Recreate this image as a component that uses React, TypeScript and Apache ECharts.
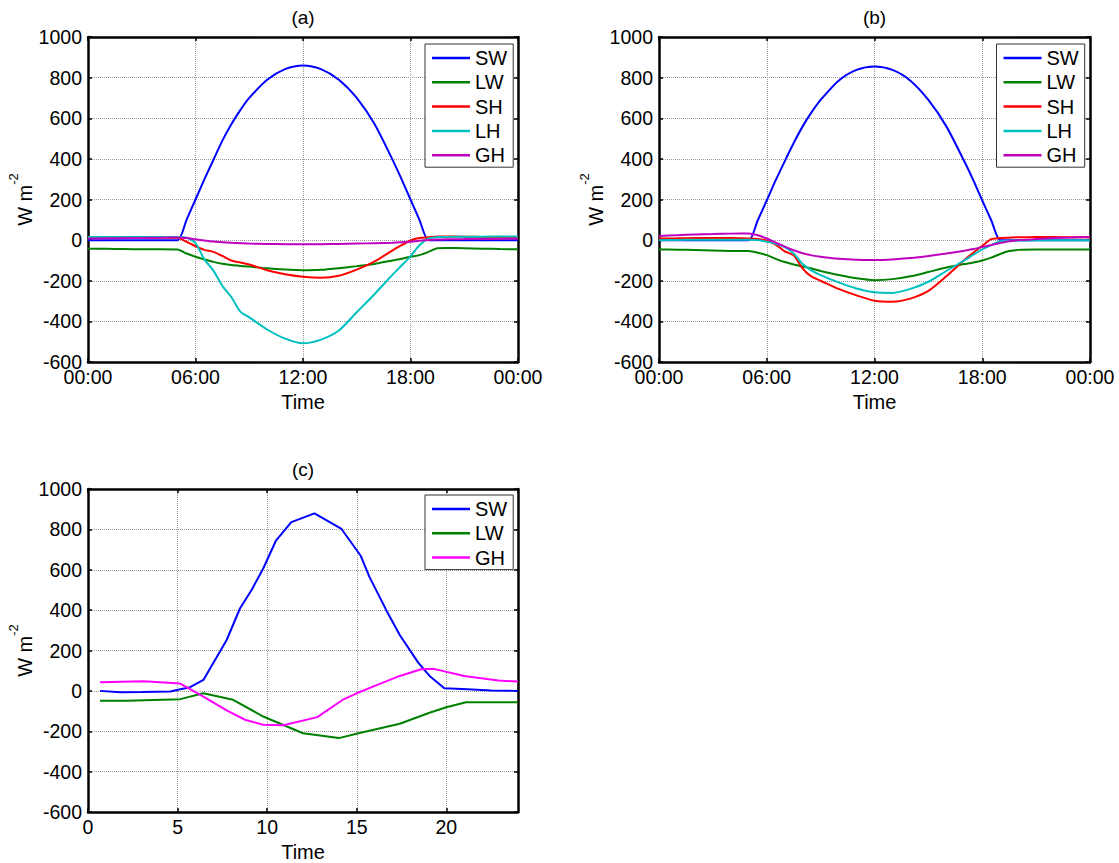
import React, { useEffect, useRef } from "react";
import * as echarts from "echarts";

// ---------- data ----------
const hoursAB = [0, 1, 2, 3, 4, 5, 5.5, 6, 6.5, 7, 7.5, 8, 8.5, 9, 10, 11, 12, 13, 14, 15, 16, 17, 17.5, 18, 18.5, 19, 19.5, 20, 21, 22, 23, 24];
const timeTickLabels = ["00:00", "06:00", "12:00", "18:00", "00:00"];
const yTicks = [-600, -400, -200, 0, 200, 400, 600, 800, 1000];
const panelTitles = ["(a)", "(b)", "(c)"];
const seriesNamesAB = ["SW", "LW", "SH", "LH", "GH"];
const seriesNamesC = ["SW", "LW", "GH"];

const aSW = [0, 0, 0, 0, 0, 0, 100, 200, 300, 395, 490, 570, 640, 700, 790, 842, 860, 842, 790, 700, 570, 395, 300, 200, 100, 0, 0, 0, 0, 0, 0, 0];
const aLW = [-42, -43, -44, -45, -45, -46, -66, -82, -95, -107, -116, -123, -127, -130, -139, -145, -148, -146, -138, -128, -117, -100, -92, -82, -74, -58, -40, -39, -40, -42, -44, -45];
const aSH = [10, 11, 12, 12, 12, 12, -8, -30, -48, -58, -78, -100, -110, -120, -148, -168, -180, -185, -175, -145, -105, -50, -25, -2, 10, 14, 18, 18, 17, 15, 13, 12];
const aLH = [16, 16, 16, 16, 16, 16, 12, -15, -95, -150, -225, -280, -352, -380, -440, -485, -508, -490, -445, -355, -265, -170, -125, -80, -25, 8, 15, 16, 17, 17, 18, 18];
const aGH = [8, 9, 10, 11, 12, 13, 10, 4, -2, -7, -10, -13, -15, -17, -19, -20, -20, -20, -19, -17, -15, -13, -11, -8, -3, 1, 3, 4, 5, 6, 6, 7];

const bSW = [0, 0, 0, 0, 0, 0, 98, 195, 295, 388, 478, 560, 630, 690, 785, 838, 855, 838, 785, 690, 560, 388, 295, 195, 98, 0, 0, 0, 0, 0, 0, 0];
const bLW = [-46, -47, -49, -51, -53, -54, -62, -74, -92, -108, -120, -130, -140, -152, -172, -188, -197, -192, -178, -157, -135, -118, -110, -100, -86, -68, -54, -48, -46, -46, -46, -46];
const bSH = [8, 9, 10, 10, 10, 8, 6, -3, -22, -55, -75, -140, -180, -200, -240, -272, -298, -303, -288, -250, -178, -98, -62, -28, 5, 10, 12, 14, 15, 15, 14, 13];
const bLH = [0, 1, 2, 2, 2, 2, 0, -8, -18, -35, -66, -118, -150, -172, -208, -238, -257, -260, -240, -205, -152, -100, -72, -45, -25, -5, -3, -2, -1, 0, 0, 0];
const bGH = [20, 24, 28, 30, 32, 33, 24, 8, -12, -32, -50, -65, -75, -82, -92, -97, -98, -95, -88, -78, -66, -52, -44, -34, -24, -14, -5, 0, 5, 10, 13, 16];

const cSWTime = [0.67, 1.8, 3.0, 4.6, 5.15, 5.7, 6.44, 7.74, 8.48, 9.13, 9.78, 10.5, 11.35, 12.64, 14.15, 15.23, 15.7, 16.64, 17.4, 18.43, 19.1, 19.89, 21.17, 22.5, 24];
const cSWValues = [0, -7, -6, -3, 8, 18, 54, 252, 408, 500, 606, 746, 836, 879, 802, 668, 566, 401, 277, 140, 71, 13, 8, 2, 0];
const cLWTime = [0.67, 2.2, 5.15, 6.44, 8.1, 9.78, 12.0, 14.0, 15.1, 17.4, 19.1, 20.0, 21.1, 24];
const cLWValues = [-49, -49, -41, -12, -44, -127, -210, -234, -210, -163, -107, -81, -56, -56];
const cGHTime = [0.67, 3.1, 5.15, 6.44, 7.74, 8.76, 9.78, 10.9, 12.8, 14.2, 15.0, 15.9, 17.4, 18.6, 19.3, 21.0, 22.9, 24];
const cGHValues = [43, 48, 36, -28, -97, -143, -168, -170, -130, -45, -12, 21, 74, 107, 109, 74, 51, 46];

const colors: Record<string, string> = {
  SW: "#0000ff",
  LW: "#008000",
  SH: "#ff0000",
  LH: "#00bfbf",
  GH: "#bf00bf",
};
const ghColorC = "#ff00ff";

// ---------- helpers ----------
const FONT = "Liberation Sans";
const zip = (xs: number[], ys: number[]) => xs.map((x, i) => [x, ys[i]]);

const grids = [
  { left: 88, top: 37, width: 430, height: 325 },
  { left: 659, top: 37, width: 431, height: 325 },
  { left: 88, top: 489, width: 430, height: 323 },
];

const axisLine = { show: true, onZero: false, lineStyle: { color: "#000", width: 2.5 } };
const axisTick = { show: true, inside: true, length: 4, lineStyle: { color: "#000", width: 1.5 } };
const splitLine = { show: true, lineStyle: { color: "#999", type: "dotted", width: 1 } };

function makeXAxes(g: number, isClock: boolean) {
  const interval = isClock ? 6 : 5;
  const base = { type: "value", gridIndex: g, min: 0, max: 24, interval };
  return [
    {
      ...base,
      position: "bottom",
      axisLine,
      axisTick,
      splitLine,
      axisLabel: {
        color: "#000",
        fontSize: 19.5,
        fontFamily: FONT,
        margin: 5,
        showMaxLabel: isClock ? true : false,
        formatter: (v: number) => (isClock ? timeTickLabels[Math.round(v / 6)] : String(v)),
      },
      name: "Time",
      nameLocation: "middle",
      nameGap: 30,
      nameTextStyle: { color: "#000", fontSize: 20, fontFamily: FONT },
    },
    {
      ...base,
      position: "top",
      axisLine,
      axisTick,
      splitLine: { show: false },
      axisLabel: { show: false },
    },
  ];
}

function makeYAxes(g: number) {
  const base = { type: "value", gridIndex: g, min: yTicks[0], max: yTicks[yTicks.length - 1], interval: 200 };
  return [
    {
      ...base,
      position: "left",
      axisLine,
      axisTick,
      splitLine,
      axisLabel: {
        color: "#000",
        fontSize: 19.5,
        fontFamily: FONT,
        margin: 6,
        formatter: (v: number) => String(v),
      },
      name: "{b|W m}{sup|-2}",
      nameLocation: "middle",
      nameGap: 53,
      nameTextStyle: {
        color: "#000",
        fontFamily: FONT,
        rich: {
          b: { fontSize: 20, fontFamily: FONT, color: "#000", verticalAlign: "bottom", lineHeight: 28 },
          sup: { fontSize: 13, fontFamily: FONT, color: "#000", verticalAlign: "top", lineHeight: 28 },
        },
      },
    },
    {
      ...base,
      position: "right",
      axisLine,
      axisTick,
      splitLine: { show: false },
      axisLabel: { show: false },
    },
  ];
}

function lineSeries(name: string, g: number, data: number[][], color: string, smooth: number | boolean) {
  return {
    type: "line",
    name,
    xAxisIndex: 2 * g,
    yAxisIndex: 2 * g,
    data,
    symbol: "none",
    showSymbol: false,
    smooth,
    lineStyle: { color, width: 2 },
    itemStyle: { color },
    z: 3,
  };
}

function makeLegend(left: number, top: number, data: any[]) {
  return {
    orient: "vertical",
    left,
    top,
    padding: [4, 6, 2, 7],
    itemGap: 4.3,
    itemWidth: 38,
    itemHeight: 2.5,
    icon: "rect",
    backgroundColor: "#fff",
    borderColor: "#333",
    borderWidth: 1,
    borderRadius: 0,
    selectedMode: false,
    textStyle: { fontSize: 20, fontFamily: FONT, color: "#000", lineHeight: 20 },
    data,
  };
}

export default function App() {
  const ref = useRef<HTMLDivElement>(null);

  useEffect(() => {
    if (!ref.current) return;
    const chart = echarts.init(ref.current, undefined, { renderer: "svg" });

    const aData = [aSW, aLW, aSH, aLH, aGH];
    const bData = [bSW, bLW, bSH, bLH, bGH];

    const series: any[] = [];
    seriesNamesAB.forEach((n, i) => series.push(lineSeries(n, 0, zip(hoursAB, aData[i]), colors[n], 0.25)));
    seriesNamesAB.forEach((n, i) => series.push(lineSeries(n, 1, zip(hoursAB, bData[i]), colors[n], 0.25)));
    series.push(lineSeries(seriesNamesC[0], 2, zip(cSWTime, cSWValues), colors.SW, false));
    series.push(lineSeries(seriesNamesC[1], 2, zip(cLWTime, cLWValues), colors.LW, false));
    series.push(lineSeries(seriesNamesC[2], 2, zip(cGHTime, cGHValues), ghColorC, false));

    const titleCenters = [
      [grids[0].left + grids[0].width / 2, 17],
      [grids[1].left + grids[1].width / 2, 17],
      [grids[2].left + grids[2].width / 2, 469],
    ];

    const option: any = {
      animation: false,
      backgroundColor: "#fff",
      grid: grids,
      xAxis: [...makeXAxes(0, true), ...makeXAxes(1, true), ...makeXAxes(2, false)],
      yAxis: [...makeYAxes(0), ...makeYAxes(1), ...makeYAxes(2)],
      legend: [
        makeLegend(425, 44, seriesNamesAB),
        makeLegend(996.5, 44, seriesNamesAB),
        makeLegend(425, 495, [
          "SW",
          "LW",
          { name: "GH", itemStyle: { color: ghColorC }, lineStyle: { color: ghColorC } },
        ]),
      ],
      graphic: panelTitles.map((t, i) => ({
        type: "text",
        x: titleCenters[i][0],
        y: titleCenters[i][1],
        style: {
          text: t,
          fill: "#000",
          fontSize: 19,
          fontFamily: FONT,
          align: "center",
          textAlign: "center",
          verticalAlign: "middle",
          textVerticalAlign: "middle",
        },
      })),
      series,
    };

    chart.setOption(option);
    return () => chart.dispose();
  }, []);

  return (
    <div
      ref={ref}
      style={{ position: "absolute", left: 0, top: 0, width: 1119, height: 863, background: "#fff" }}
    />
  );
}
